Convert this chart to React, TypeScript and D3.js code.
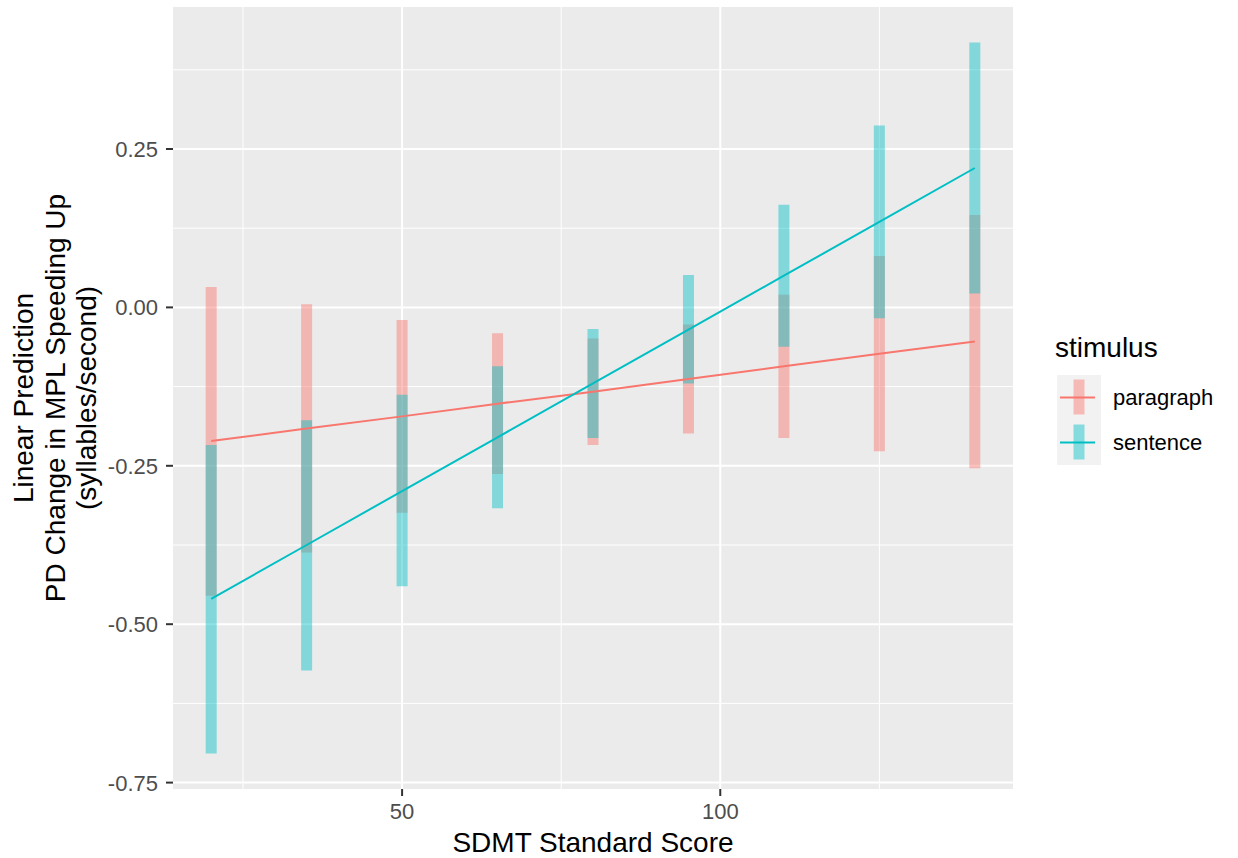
import React from "react";
import * as d3 from "d3";

const sdmt = [20, 35, 50, 65, 80, 95, 110, 125, 140];
const paragraphFit = [-0.211, -0.191, -0.172, -0.152, -0.133, -0.113, -0.093, -0.073, -0.054];
const paragraphLower = [-0.455, -0.387, -0.324, -0.263, -0.217, -0.199, -0.206, -0.227, -0.254];
const paragraphUpper = [0.032, 0.005, -0.020, -0.041, -0.049, -0.027, 0.020, 0.081, 0.146];
const sentenceFit = [-0.46, -0.375, -0.29, -0.205, -0.12, -0.035, 0.05, 0.135, 0.22];
const sentenceLower = [-0.704, -0.573, -0.44, -0.317, -0.206, -0.12, -0.062, -0.017, 0.022];
const sentenceUpper = [-0.217, -0.178, -0.138, -0.093, -0.034, 0.051, 0.162, 0.287, 0.418];
const xTicks = [50, 100];
const xMinor = [25, 75, 125];
const yTicks = [0.25, 0, -0.25, -0.5, -0.75];
const yMinor = [0.375, 0.125, -0.125, -0.375, -0.625];
const yTickLabels = ["0.25", "0.00", "-0.25", "-0.50", "-0.75"];
const seriesNames = ["paragraph", "sentence"];
const seriesColors = ["#F8766D", "#00BFC4"];
const yTitleLines = ["Linear Prediction", "PD Change in MPL Speeding Up", "(syllables/second)"];

const FONT = "'Liberation Sans', Arial, Helvetica, sans-serif";

export default function App() {
  const W = 1238, H = 858;
  const pL = 173, pR = 1013, pT = 7, pB = 789;

  const allY = [...paragraphLower, ...paragraphUpper, ...sentenceLower, ...sentenceUpper];
  const yMin = d3.min(allY)!, yMax = d3.max(allY)!;
  const yPad = (yMax - yMin) * 0.05;
  const xMin = d3.min(sdmt)!, xMax = d3.max(sdmt)!;
  const xPad = (xMax - xMin) * 0.05;

  const x = d3.scaleLinear().domain([xMin - xPad, xMax + xPad]).range([pL, pR]);
  const y = d3.scaleLinear().domain([yMin - yPad, yMax + yPad]).range([pB, pT]);

  const series = [
    { name: seriesNames[0], color: seriesColors[0], fit: paragraphFit, lo: paragraphLower, hi: paragraphUpper },
    { name: seriesNames[1], color: seriesColors[1], fit: sentenceFit, lo: sentenceLower, hi: sentenceUpper },
  ];

  const line = d3.line<[number, number]>().x(d => x(d[0])).y(d => y(d[1]));

  return (
    <svg width={W} height={H} style={{ position: "absolute", left: 0, top: 0, background: "#fff" }} fontFamily={FONT}>
      <rect x={pL} y={pT} width={pR - pL} height={pB - pT} fill="#EBEBEB" />
      {yMinor.map(v => (
        <line key={"ym" + v} x1={pL} x2={pR} y1={y(v)} y2={y(v)} stroke="#fff" strokeWidth={1} />
      ))}
      {xMinor.map(v => (
        <line key={"xm" + v} x1={x(v)} x2={x(v)} y1={pT} y2={pB} stroke="#fff" strokeWidth={1} />
      ))}
      {yTicks.map(v => (
        <line key={"yg" + v} x1={pL} x2={pR} y1={y(v)} y2={y(v)} stroke="#fff" strokeWidth={2} />
      ))}
      {xTicks.map(v => (
        <line key={"xg" + v} x1={x(v)} x2={x(v)} y1={pT} y2={pB} stroke="#fff" strokeWidth={2} />
      ))}

      {series.map(s => (
        <g key={"bars" + s.name}>
          {sdmt.map((v, i) => (
            <line key={i} x1={x(v)} x2={x(v)} y1={y(s.lo[i])} y2={y(s.hi[i])}
              stroke={s.color} strokeOpacity={0.45} strokeWidth={11} />
          ))}
        </g>
      ))}
      {series.map(s => (
        <path key={"line" + s.name}
          d={line(sdmt.map((v, i) => [v, s.fit[i]] as [number, number]))!}
          fill="none" stroke={s.color} strokeWidth={2} />
      ))}

      {/* y axis */}
      {yTicks.map((v, i) => (
        <g key={"yt" + v}>
          <line x1={pL - 7} x2={pL} y1={y(v)} y2={y(v)} stroke="#333" strokeWidth={2} />
          <text x={pL - 15} y={y(v)} dy="0.36em" textAnchor="end" fontSize={22} fill="#4D4D4D">{yTickLabels[i]}</text>
        </g>
      ))}
      {/* x axis */}
      {xTicks.map(v => (
        <g key={"xt" + v}>
          <line x1={x(v)} x2={x(v)} y1={pB} y2={pB + 7} stroke="#333" strokeWidth={2} />
          <text x={x(v)} y={819} textAnchor="middle" fontSize={22} fill="#4D4D4D">{v}</text>
        </g>
      ))}
      <text x={(pL + pR) / 2} y={852} textAnchor="middle" fontSize={28} fill="#000">SDMT Standard Score</text>
      {yTitleLines.map((t, i) => (
        <text key={"yl" + i} transform={`translate(${33 + i * 31.5},${(pT + pB) / 2}) rotate(-90)`}
          textAnchor="middle" fontSize={28} fill="#000">{t}</text>
      ))}

      {/* legend */}
      <text x={1055} y={357} fontSize={28} fill="#000">stimulus</text>
      {series.map((s, i) => {
        const cy = 397.5 + i * 45;
        return (
          <g key={"lg" + s.name}>
            <rect x={1057} y={cy - 22.5} width={44} height={45} fill="#F2F2F2" />
            <line x1={1079} x2={1079} y1={cy - 18} y2={cy + 17} stroke={s.color} strokeOpacity={0.45} strokeWidth={11} />
            <line x1={1060} x2={1095} y1={cy} y2={cy} stroke={s.color} strokeWidth={2} />
            <text x={1113} y={cy} dy="0.36em" fontSize={22} fill="#000">{s.name}</text>
          </g>
        );
      })}
    </svg>
  );
}
